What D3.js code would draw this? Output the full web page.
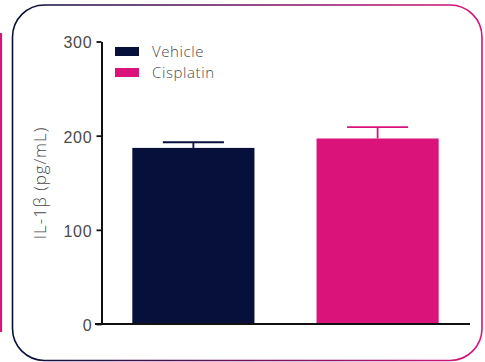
<!DOCTYPE html>
<html>
<head>
<meta charset="utf-8">
<script src="https://cdn.jsdelivr.net/npm/d3@7"></script>
<style>
  html, body { margin: 0; padding: 0; background: #fff; }
  svg { display: block; font-family: "Open Sans", "Lato", sans-serif; }
</style>
</head>
<body>
<div id="chart"></div>
<script>
// Dados
const groups = ['Vehicle', 'Cisplatin'];
const means  = [187, 197];
const sems   = [6, 12];
const colors = ['#06103b', '#d9137a'];
const yTicks = [0, 100, 200, 300];

const W = 485, H = 362;
const TXT = '#4a4a4a';
const svg = d3.select('#chart').append('svg').attr('width', W).attr('height', H);

// Moldura com gradiente (azul -> rosa)
const defs = svg.append('defs');
const grad = defs.append('linearGradient').attr('id', 'frame-grad')
  .attr('x1', '0%').attr('x2', '100%').attr('y1', '0%').attr('y2', '0%');
grad.append('stop').attr('offset', '0%').attr('stop-color', '#06103b');
grad.append('stop').attr('offset', '100%').attr('stop-color', '#d9137a');

svg.append('rect')
  .attr('x', 12.5).attr('y', 5).attr('width', 469.5).attr('height', 355.5)
  .attr('rx', 32).attr('ry', 32)
  .attr('fill', 'none').attr('stroke', 'url(#frame-grad)').attr('stroke-width', 1.6);

// borda do painel vizinho (cortada)
svg.append('line').attr('x1', 1).attr('x2', 1).attr('y1', 33).attr('y2', 332)
  .attr('stroke', '#d9137a').attr('stroke-width', 2.2);

// Escalas
const y = d3.scaleLinear().domain([0, 300]).range([324, 41.5]);
const x = d3.scaleBand().domain(groups).range([101, 470]).paddingInner(0.337).paddingOuter(0.17);

// Barras
svg.selectAll('rect.bar').data(groups).enter().append('rect')
  .attr('class', 'bar')
  .attr('x', d => x(d))
  .attr('width', x.bandwidth())
  .attr('y', (d, i) => y(means[i]))
  .attr('height', (d, i) => y(0) - y(means[i]))
  .attr('fill', (d, i) => colors[i]);

// Barras de erro (so para cima)
groups.forEach((g, i) => {
  const cx = x(g) + x.bandwidth() / 2;
  const capW = x.bandwidth() / 2;
  svg.append('line').attr('x1', cx).attr('x2', cx)
    .attr('y1', y(means[i])).attr('y2', y(means[i] + sems[i]))
    .attr('stroke', colors[i]).attr('stroke-width', 1.8);
  svg.append('line').attr('x1', cx - capW / 2).attr('x2', cx + capW / 2)
    .attr('y1', y(means[i] + sems[i])).attr('y2', y(means[i] + sems[i]))
    .attr('stroke', colors[i]).attr('stroke-width', 1.8);
});

// Eixo Y
const yAxis = svg.append('g').attr('transform', 'translate(101.5,0)')
  .call(d3.axisLeft(y).tickValues(yTicks).tickSize(5).tickPadding(4).tickSizeOuter(0));
yAxis.select('.domain').attr('stroke', '#111').attr('stroke-width', 2);
yAxis.selectAll('.tick line').attr('stroke', '#111').attr('stroke-width', 1.8);
yAxis.selectAll('.tick text').attr('fill', TXT).attr('font-size', 16)
  .attr('font-weight', 300).attr('letter-spacing', 0.8).attr('dy', '0.4em');

// Eixo X (apenas linha)
svg.append('line').attr('x1', 95).attr('x2', 470).attr('y1', 324).attr('y2', 324)
  .attr('stroke', '#111').attr('stroke-width', 2);

// Rotulo Y
svg.append('text')
  .attr('transform', 'translate(46,183) rotate(-90)')
  .attr('text-anchor', 'middle')
  .attr('fill', TXT).attr('font-size', 17).attr('font-weight', 300)
  .attr('letter-spacing', 0.9)
  .text('IL-1β (pg/mL)');

// Legenda
const leg = svg.append('g');
groups.forEach((g, i) => {
  leg.append('rect').attr('x', 115).attr('y', 47 + i * 21).attr('width', 24).attr('height', 9)
    .attr('fill', colors[i]);
  leg.append('text').attr('x', 152).attr('y', 57 + i * 21)
    .attr('fill', TXT).attr('font-size', 15).attr('font-weight', 300)
    .attr('letter-spacing', 0.6)
    .text(g);
});
</script>
</body>
</html>
